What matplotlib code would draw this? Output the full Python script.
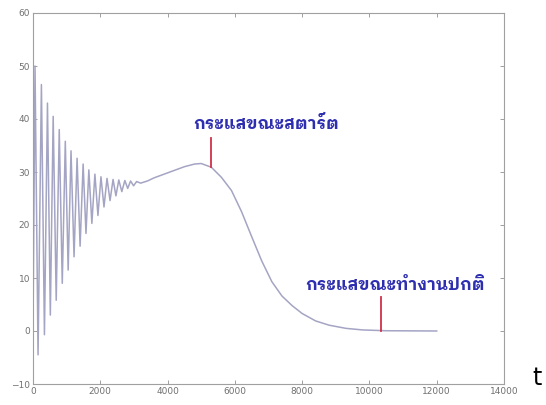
import matplotlib
matplotlib.use("Agg")
import numpy as np
import matplotlib.pyplot as plt
from matplotlib import font_manager

# --- datos ---
# picos y valles de la oscilacion inicial
t_picos = [60, 250, 430, 600, 780, 960, 1130, 1310, 1490, 1660, 1840, 2020,
           2200, 2380, 2550, 2730, 2900, 3080]
v_picos = [50, 46.5, 43, 40.5, 38, 35.8, 34, 32.6, 31.5, 30.4, 29.6, 29.1,
           28.8, 28.6, 28.5, 28.4, 28.3, 28.2]
t_valles = [150, 340, 515, 690, 870, 1045, 1220, 1400, 1575, 1750, 1930, 2110,
            2290, 2465, 2640, 2815, 2990]
v_valles = [-4.5, -0.7, 3, 5.8, 9, 11.5, 14, 16, 18.4, 20.3, 21.8, 23.4,
            24.6, 25.5, 26.3, 26.9, 27.4]

# parte suave (arranque y regimen normal)
t_suave = [3200, 3400, 3600, 3900, 4200, 4500, 4800, 5000, 5300, 5600, 5900,
           6200, 6500, 6800, 7100, 7400, 7700, 8000, 8400, 8800, 9300, 9800,
           10500, 12000]
v_suave = [27.9, 28.3, 28.9, 29.6, 30.3, 31.0, 31.5, 31.6, 30.9, 29.0, 26.5,
           22.5, 17.8, 13.2, 9.3, 6.6, 4.8, 3.3, 1.9, 1.1, 0.5, 0.2, 0.05, 0]

etiquetas = ["กระแสขณะสตาร์ต", "กระแสขณะทำงานปกติ"]
marcas_t = [5280, 10330]
marcas_v = [(31.0, 36.5), (0.0, 6.5)]
pos_texto = [(4755, 39.2), (8084, 8.6)]

# --- fuente tailandesa con bucles, si existe ---
nombres = {f.name for f in font_manager.fontManager.ttflist}
fuente_thai = "DejaVu Sans"
for cand in ["IBM Plex Sans Thai Looped", "Sarabun", "Noto Sans Thai Looped",
             "Tahoma", "Loma", "Garuda", "Noto Sans Thai", "Anuphan"]:
    if cand in nombres:
        fuente_thai = cand
        break

# serie completa: valor 0 al inicio, luego picos y valles intercalados
t_osc = [0]
v_osc = [0]
for i in range(len(t_picos)):
    t_osc.append(t_picos[i])
    v_osc.append(v_picos[i])
    if i < len(t_valles):
        t_osc.append(t_valles[i])
        v_osc.append(v_valles[i])
t_todo = np.array(t_osc + t_suave)
v_todo = np.array(v_osc + v_suave)

fig = plt.figure(figsize=(5.46, 4.05), dpi=100)
ax = fig.add_axes([33 / 546, 1 - 384 / 405, 471 / 546, 371 / 405])

ax.plot(t_todo, v_todo, color="#a4a4c4", lw=1.1)

for tm, (v0, v1) in zip(marcas_t, marcas_v):
    ax.plot([tm, tm], [v0, v1], color="#d0304a", lw=1.3)

for txt, (xt, yt) in zip(etiquetas, pos_texto):
    ax.text(xt, yt, txt, ha="left", va="center", fontsize=12.2,
            fontweight="bold", color="#2e2eb0", family=[fuente_thai, "DejaVu Sans"])

ax.set_xlim(0, 14000)
ax.set_ylim(-10, 60)
ax.set_xticks(np.arange(0, 14001, 2000))
ax.set_yticks(np.arange(-10, 61, 10))
ax.tick_params(direction="in", top=True, right=True, length=3, width=0.6,
               colors="#909090", labelcolor="#707070", labelsize=6.5, pad=2)
for s in ax.spines.values():
    s.set_color("#a0a0a0")
    s.set_linewidth(0.8)

fig.text(537 / 546, 1 - 378 / 405, "t", ha="center", va="center", fontsize=17)

fig.savefig("out.png", dpi=100)
